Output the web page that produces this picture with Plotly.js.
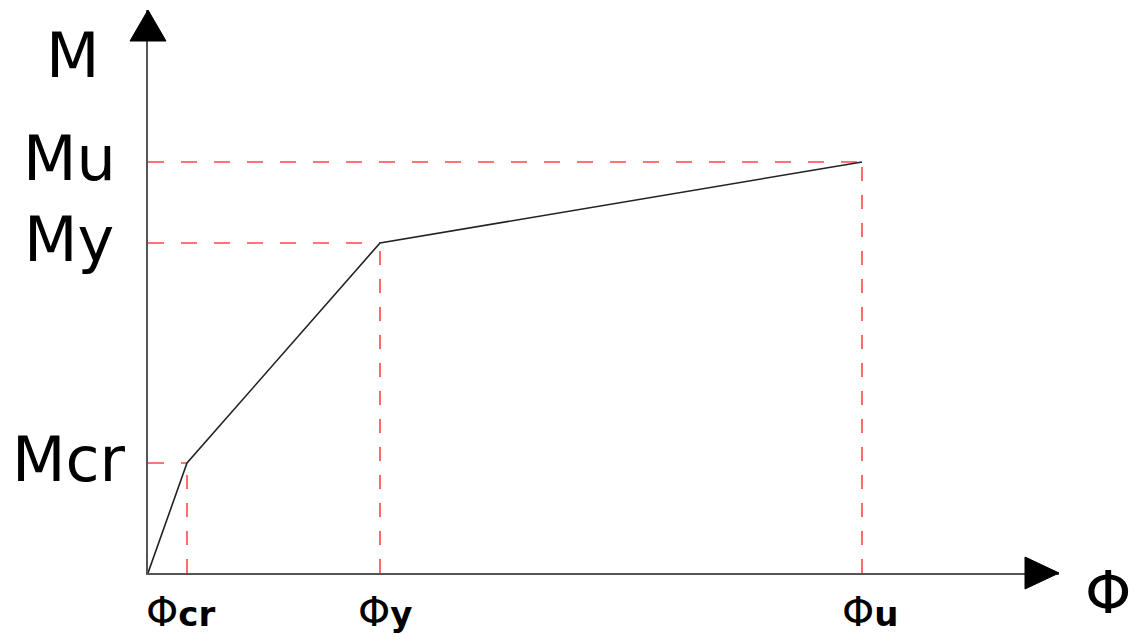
<!DOCTYPE html>
<html>
<head>
<meta charset="utf-8">
<script src="https://cdn.plot.ly/plotly-3.0.1.min.js"></script>
<style>html,body{margin:0;padding:0;background:#fff}#chart{width:1130px;height:635px}</style>
</head>
<body>
<div id="chart"></div>
<script>
// Key points of the moment–curvature curve (arbitrary units)
const phiLabels = ["cr", "y", "u"];
const mLabels = ["Mcr", "My", "Mu"];
const phiValues = [39, 232, 714];
const mValues = [110, 330, 411];
const xMax = 911;
const yMax = 563;

// label placement tweaks (pixels), kept apart from the data
const phiLabelShift = [-7, 5, 8];

const curveX = [0].concat(phiValues);
const curveY = [0].concat(mValues);

const traces = [];
const red = 'rgb(255,72,72)';
phiValues.forEach((p, i) => {
  traces.push({x: [0, p], y: [mValues[i], mValues[i]], mode: 'lines', hoverinfo: 'skip',
    line: {color: red, width: 1.6, dash: '16px,17px'}});
  traces.push({x: [p, p], y: [0, mValues[i]], mode: 'lines', hoverinfo: 'skip',
    line: {color: red, width: 1.6, dash: '14px,14px'}});
});
traces.push({x: curveX, y: curveY, mode: 'lines', hoverinfo: 'skip',
  line: {color: '#222', width: 1.6}});

const font = 'DejaVu Sans, sans-serif';
const annotations = [];
mLabels.forEach((t, i) => {
  annotations.push({x: 0, y: mValues[i], xref: 'x', yref: 'y', text: t, showarrow: false,
    xanchor: 'center', yanchor: 'middle', xshift: -79, yshift: 4,
    font: {family: font, size: 62, color: '#000'}});
});
phiLabels.forEach((t, i) => {
  annotations.push({x: phiValues[i], y: 0, xref: 'x', yref: 'y',
    text: '<span style="font-size:41px">Φ</span><b>' + t + '</b>', showarrow: false,
    xanchor: 'center', yanchor: 'middle', xshift: phiLabelShift[i], yshift: -39,
    font: {family: font, size: 34, color: '#000'}});
});
annotations.push({x: 0, y: yMax, xref: 'x', yref: 'y', text: 'M', showarrow: false,
  xanchor: 'center', yanchor: 'middle', xshift: -75, yshift: -45,
  font: {family: font, size: 62, color: '#000'}});
annotations.push({x: xMax, y: 0, xref: 'x', yref: 'y', text: 'Φ', showarrow: false,
  xanchor: 'center', yanchor: 'middle', xshift: 49, yshift: -19,
  font: {family: font, size: 59, color: '#000'}});

const shapes = [
  {type: 'path', xref: 'paper', yref: 'paper', xsizemode: 'pixel', ysizemode: 'pixel',
   xanchor: 0, yanchor: 1, path: 'M-18,-31 L18,-31 L0,0 Z',
   fillcolor: '#000', line: {color: '#000', width: 1}},
  {type: 'path', xref: 'paper', yref: 'paper', xsizemode: 'pixel', ysizemode: 'pixel',
   xanchor: 1, yanchor: 0, path: 'M-34,-16 L-34,16 L0,0 Z',
   fillcolor: '#000', line: {color: '#000', width: 1}}
];

const layout = {
  width: 1130, height: 635,
  margin: {l: 148, r: 71, t: 10, b: 62},
  paper_bgcolor: '#fff', plot_bgcolor: '#fff',
  showlegend: false,
  xaxis: {range: [0, xMax], showgrid: false, zeroline: false, showticklabels: false,
    ticks: '', showline: true, linecolor: '#555', linewidth: 2, fixedrange: true},
  yaxis: {range: [0, yMax], showgrid: false, zeroline: false, showticklabels: false,
    ticks: '', showline: true, linecolor: '#555', linewidth: 2, fixedrange: true},
  annotations: annotations,
  shapes: shapes
};
Plotly.newPlot('chart', traces, layout, {staticPlot: true});
</script>
</body>
</html>
